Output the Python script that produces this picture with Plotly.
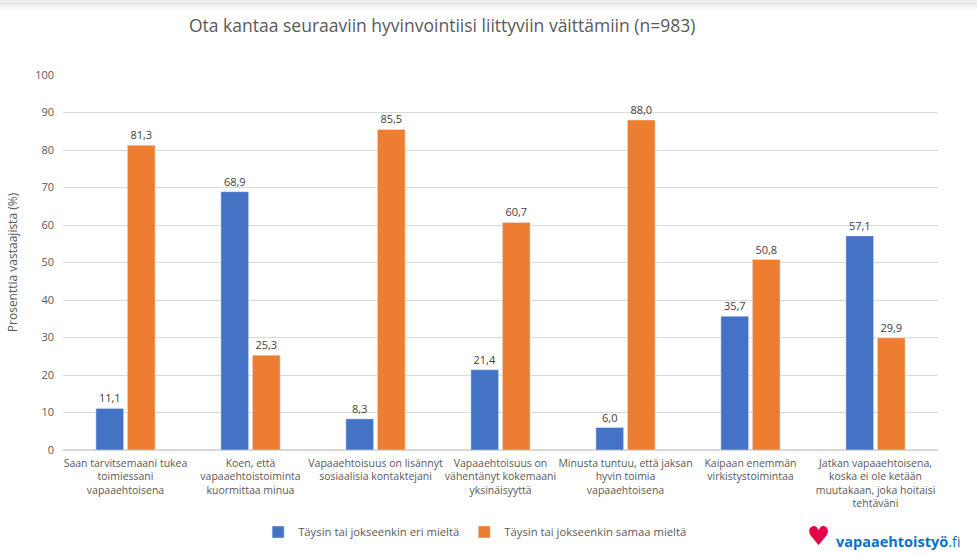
import plotly.graph_objects as go

categories = [
    "Saan tarvitsemaani tukea<br>toimiessani<br>vapaaehtoisena",
    "Koen, että<br>vapaaehtoistoiminta<br>kuormittaa minua",
    "Vapaaehtoisuus on lisännyt<br>sosiaalisia kontaktejani",
    "Vapaaehtoisuus on<br>vähentänyt kokemaani<br>yksinäisyyttä",
    "Minusta tuntuu, että jaksan<br>hyvin toimia<br>vapaaehtoisena",
    "Kaipaan enemmän<br>virkistystoimintaa",
    "Jatkan vapaaehtoisena,<br>koska ei ole ketään<br>muutakaan, joka hoitaisi<br>tehtäväni",
]
disagree = [11.1, 68.9, 8.3, 21.4, 6.0, 35.7, 57.1]
agree = [81.3, 25.3, 85.5, 60.7, 88.0, 50.8, 29.9]
series_names = ["Täysin tai jokseenkin eri mieltä", "Täysin tai jokseenkin samaa mieltä"]
y_ticks = [0, 10, 20, 30, 40, 50, 60, 70, 80, 90, 100]

def fmt(v):
    return f"{v:.1f}".replace(".", ",")

# pixel -> paper helpers (plot area: x 63..938, y 75..450)
def px(x):
    return (x - 63) / 875

def py(y):
    return (450 - y) / 375

FONT = "Open Sans"
fig = go.Figure()
fig.add_trace(go.Bar(x=categories, y=disagree, name=series_names[0], marker_color="#4472C4",
                     text=[fmt(v) for v in disagree], textposition="outside", cliponaxis=False,
                     textfont=dict(size=11, color="#404040", family=FONT)))
fig.add_trace(go.Bar(x=categories, y=agree, name=series_names[1], marker_color="#ED7D31",
                     text=[fmt(v) for v in agree], textposition="outside", cliponaxis=False,
                     textfont=dict(size=11, color="#404040", family=FONT)))

fig.update_layout(
    width=977, height=554,
    margin=dict(l=63, r=39, t=75, b=104, autoexpand=False),
    paper_bgcolor="white", plot_bgcolor="white",
    barmode="group", bargap=0.496, bargroupgap=0.12,
    font=dict(family=FONT, color="#595959", size=11),
    showlegend=True,
    legend=dict(orientation="h", x=0.471, xanchor="center", y=py(532), yanchor="middle",
                font=dict(size=11.3, color="#595959"), itemwidth=30, traceorder="normal"),
    xaxis=dict(showgrid=False, showline=False, ticks="", tickfont=dict(size=10.5, color="#595959"),
               tickangle=0, automargin=False, ticklabelstandoff=5),
    yaxis=dict(range=[0, 100], tickvals=y_ticks, showgrid=True, gridcolor="#D9D9D9", gridwidth=1,
               zeroline=True, zerolinecolor="#D9D9D9", showline=False, ticks="",
               tickfont=dict(size=11, color="#595959"), ticklabelstandoff=8,
               title=dict(text="Prosenttia vastaajista (%)", font=dict(size=12, color="#595959"), standoff=14),
               automargin=False),
)

fig.add_annotation(text="Ota kantaa seuraaviin hyvinvointiisi liittyviin väittämiin (n=983)",
                   xref="paper", yref="paper", x=px(442), y=py(25),
                   xanchor="center", yanchor="middle", showarrow=False,
                   font=dict(size=17.5, color="#595959", family=FONT))

# top shadow band
for (y0, y1, op) in [(0, 3, 0.07), (3, 4, 0.13), (4, 6, 0.07), (6, 8, 0.035), (8, 10, 0.015)]:
    fig.add_shape(type="rect", xref="paper", yref="paper",
                  x0=px(0), x1=px(977), y0=py(y1), y1=py(y0),
                  fillcolor=f"rgba(0,0,0,{op})", line_width=0, layer="above")

# logo
fig.add_annotation(text="♥", xref="paper", yref="paper", x=px(818), y=py(536),
                   xanchor="center", yanchor="middle", showarrow=False,
                   font=dict(size=26, color="#E6004C", family="DejaVu Sans"))
fig.add_annotation(text="<b>vapaaehtoistyö</b>.fi", xref="paper", yref="paper",
                   x=px(834), y=py(541), xanchor="left", yanchor="middle",
                   showarrow=False,
                   font=dict(size=14.5, color="#0B6FC7", family=FONT))

fig.write_html("out.html", config={"displayModeBar": False},
               post_script="document.body.style.margin='0';document.body.style.overflow='hidden';")
